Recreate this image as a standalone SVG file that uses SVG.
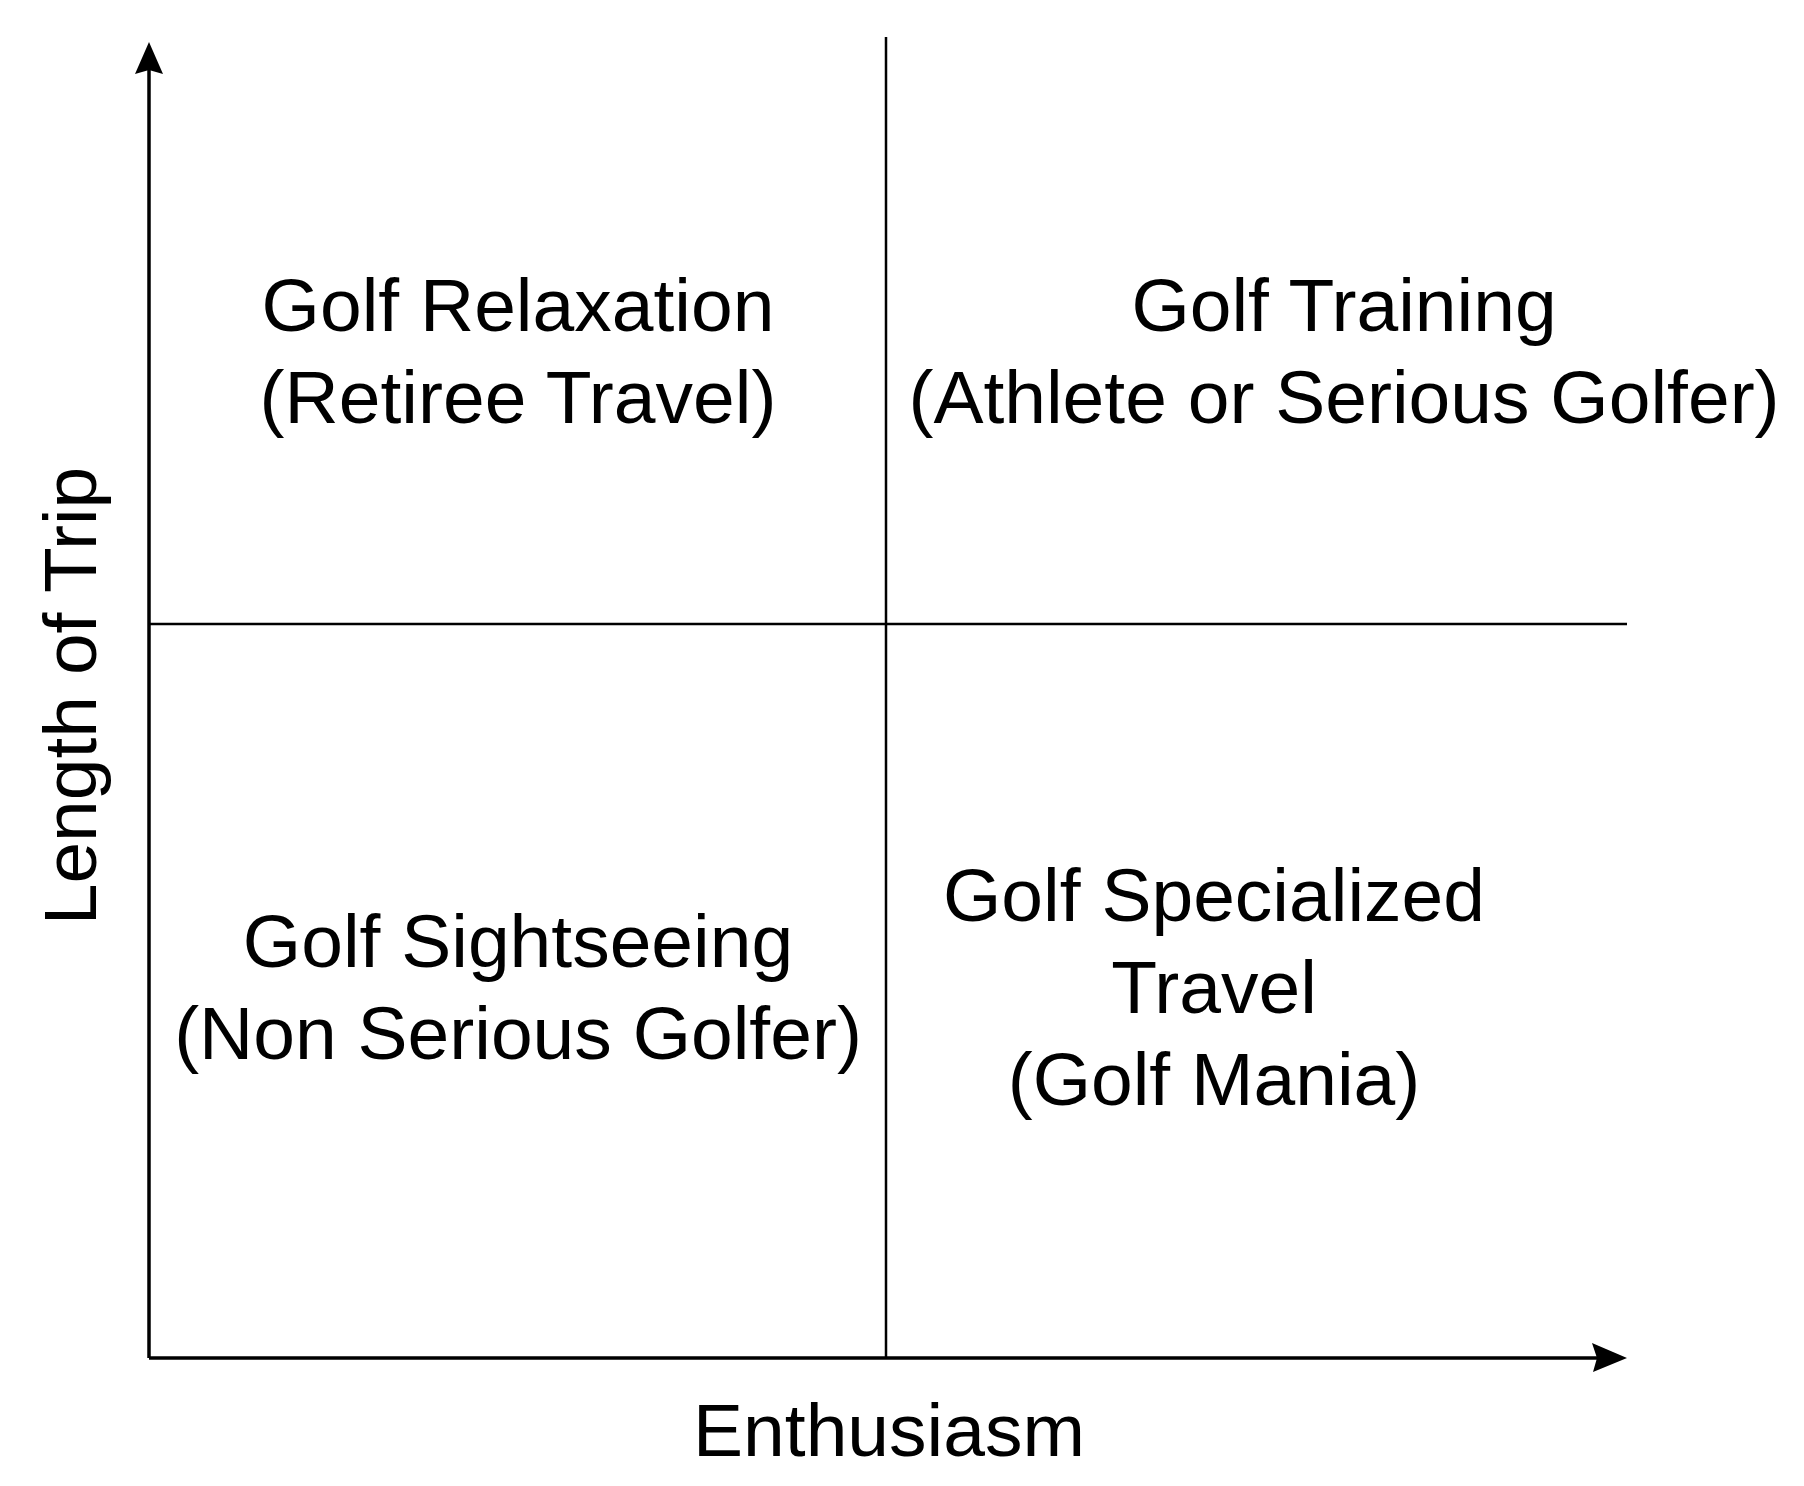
<svg xmlns="http://www.w3.org/2000/svg" width="1804" height="1486" viewBox="0 0 1804 1486">
<style>
text{font-family:"Liberation Sans",Arial,sans-serif;font-size:75px;fill:#000;text-anchor:middle}
.ax{stroke:#000;stroke-width:3.5;fill:none}
.dv{stroke:#000;stroke-width:2.5;fill:none}
</style>
<defs>
<marker id="ah" viewBox="0 0 10 10" refX="9" refY="5" markerWidth="10" markerHeight="10" markerUnits="userSpaceOnUse" orient="auto">
<path d="M0,0 L10,5 L0,10 L2,5 Z" fill="#000"/>
</marker>
</defs>
<rect width="1804" height="1486" fill="#fff"/>
<g id="connectors">
<line class="dv" x1="886" y1="37" x2="886" y2="1358"/>
<line class="dv" x1="149" y1="624" x2="1627" y2="624"/>
<path class="ax" d="M149,1358 L149,50"/>
<path d="M149,42 L135,74 L149,70 L163,74 Z" fill="#000"/>
<path class="ax" d="M149,1358 L1618,1358"/>
<path d="M1627,1358 L1592,1343 L1597,1358 L1593,1372 Z" fill="#000"/>
</g>
<g id="q1"><text x="518" y="331">Golf Relaxation</text><text x="518" y="423">(Retiree Travel)</text></g>
<g id="q2"><text x="1344" y="331">Golf Training</text><text x="1344" y="423">(Athlete or Serious Golfer)</text></g>
<g id="q3"><text x="518" y="967">Golf Sightseeing</text><text x="518" y="1059">(Non Serious Golfer)</text></g>
<g id="q4"><text x="1214" y="921">Golf Specialized</text><text x="1214" y="1013">Travel</text><text x="1214" y="1105">(Golf Mania)</text></g>
<g id="xlabel"><text x="889" y="1456">Enthusiasm</text></g>
<g id="ylabel"><text transform="translate(96,696) rotate(-90)">Length of Trip</text></g>
</svg>
